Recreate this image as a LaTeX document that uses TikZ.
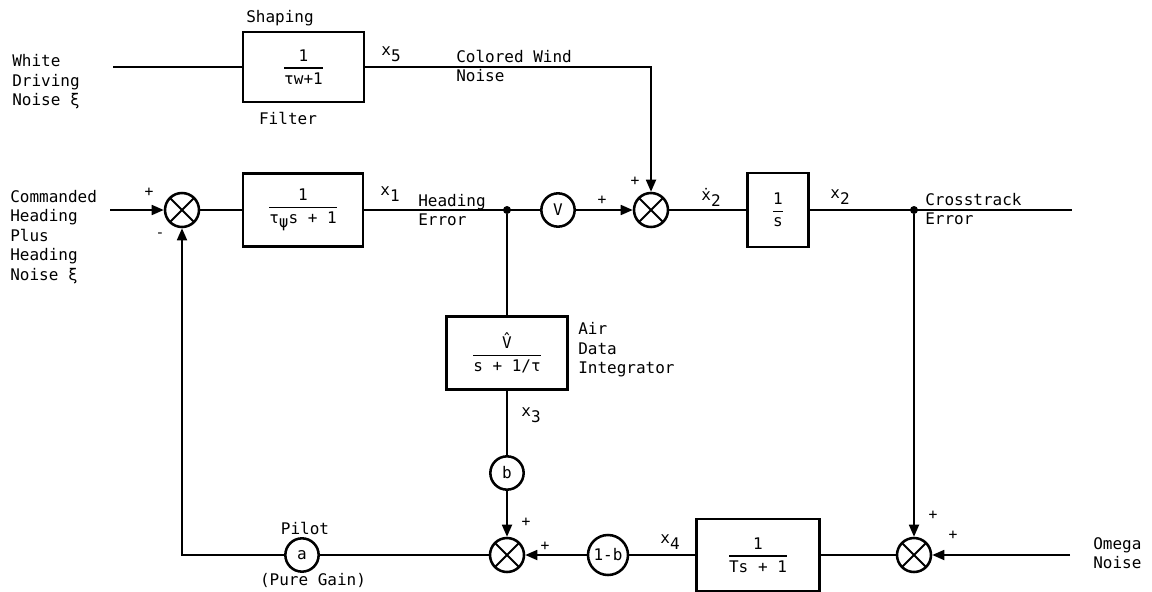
\documentclass[tikz,border=0pt]{standalone}
\usepackage{amsmath}
\usepackage{fontspec}
\setmainfont{DejaVu Sans Mono}
\usetikzlibrary{arrows.meta}
\newcommand\xs[1]{x\raisebox{-4.5pt}{#1}}
\newcommand\fr[2]{$\genfrac{}{}{1pt}{0}{\hbox{#1}}{\hbox{#2}}$}
\begin{document}
\begin{tikzpicture}[x=0.75pt,y=-0.75pt,
  every node/.style={font=\fontsize{12pt}{14.6pt}\selectfont, inner sep=0pt},
  ln/.style={line width=1.3pt},
  arr/.style={ln,-{Triangle[length=9pt,width=7.5pt]}},
  blk/.style={draw, line width=2.2pt, rectangle, inner sep=2pt},
  gain/.style={draw, circle, line width=1.9pt, minimum size=25pt},
  summer/.style={draw, circle, line width=1.9pt, minimum size=25.5pt,
    path picture={\draw[line width=1.5pt] (path picture bounding box.north west)--(path picture bounding box.south east) (path picture bounding box.north east)--(path picture bounding box.south west);}},
  jdot/.style={circle, fill, minimum size=6pt},
  lbl/.style={align=left, anchor=west},
  sgn/.style={font=\fontsize{11pt}{13pt}\selectfont}]
\useasboundingbox (0,0) rectangle (1152,592);

% top row
\node[lbl] (wdn) at (12,82) {White\\Driving\\Noise ξ};
\coordinate (win) at (113,67);
\node[blk, minimum width=90.75pt, minimum height=52.5pt] (shp) at (303.5,67) {\fr{1}{τw+1}};
\node (shl) at (280,18) {Shaping};
\node (fil) at (288,118) {Filter};
\node (x5) at (391,54) {\xs{5}};
\node[lbl] (cwn) at (456,66) {Colored Wind\\Noise};

% middle row
\node[lbl] (chd) at (10,237) {Commanded\\Heading\\Plus\\Heading\\Noise ξ};
\coordinate (cin) at (110,210);
\node[summer] (s1) at (182,210) {};
\node[blk, minimum width=90pt, minimum height=55pt] (g1) at (303,210) {\fr{1}{τ\raisebox{-3pt}{ψ}s + 1}};
\node[jdot] (j1) at (507,210) {};
\node[gain] (v) at (558,210) {V};
\node[summer] (s2) at (651,210) {};
\node[blk, minimum width=46pt, minimum height=55.5pt] (g2) at (778,210) {\fr{1}{s}};
\node[jdot] (j2) at (914,210) {};
\coordinate (cout) at (1072,210);

\node[sgn] (p1) at (149,192) {+};
\node[sgn] (m1) at (160,235) {-};
\node (x1) at (390,194) {\xs{1}};
\node[lbl] (he) at (418,210) {Heading\\Error};
\node[sgn] (p2) at (602,200) {+};
\node[sgn] (p3) at (635,181) {+};
\node (xd2) at (711,197) {\.{x}\raisebox{-4.5pt}{2}};
\node (x2) at (840,197) {\xs{2}};
\node[lbl] (cte) at (925,209) {Crosstrack\\Error};

% air data integrator
\node[blk, minimum width=91pt, minimum height=55pt] (g4) at (507,353) {\fr{\^{V}}{s + 1/τ}};
\node[lbl] (adi) at (578,350) {Air\\Data\\Integrator};
\node (x3) at (531,415) {\xs{3}};
\node[gain] (b) at (507,473) {b};

% bottom row
\node[summer] (s3) at (507,555) {};
\node[gain] (a) at (302,555) {a};
\node (pil) at (305,528) {Pilot};
\node (pg) at (313,580) {(Pure Gain)};
\node[sgn] (p4) at (526,522) {+};
\node[sgn] (p5) at (545,546) {+};
\node[gain, minimum size=30pt] (g1b) at (608,555) {1-b};
\node (x4) at (670,542) {\xs{4}};
\node[blk, minimum width=92pt, minimum height=54pt] (g3) at (758,555) {\fr{1}{Ts + 1}};
\node[summer] (s4) at (914,555) {};
\node[sgn] (p6) at (933,515) {+};
\node[sgn] (p7) at (953,535) {+};
\coordinate (om) at (1070,555);
\node[lbl] (omn) at (1093,553) {Omega\\Noise};

% connectors
\draw[ln] (win) -- (shp);
\draw[arr] (shp) -| (s2);
\draw[arr] (cin) -- (s1);
\draw[ln] (s1) -- (g1);
\draw[ln] (g1) -- (v);
\draw[arr] (v) -- (s2);
\draw[ln] (s2) -- (g2);
\draw[ln] (g2) -- (cout);
\draw[ln] (j1) -- (g4);
\draw[ln] (g4) -- (b);
\draw[arr] (b) -- (s3);
\draw[arr] (j2) -- (s4);
\draw[arr] (om) -- (s4);
\draw[ln] (s4) -- (g3);
\draw[ln] (g3) -- (g1b);
\draw[arr] (g1b) -- (s3);
\draw[ln] (s3) -- (a);
\draw[arr] (a) -| (s1);
\end{tikzpicture}
\end{document}
